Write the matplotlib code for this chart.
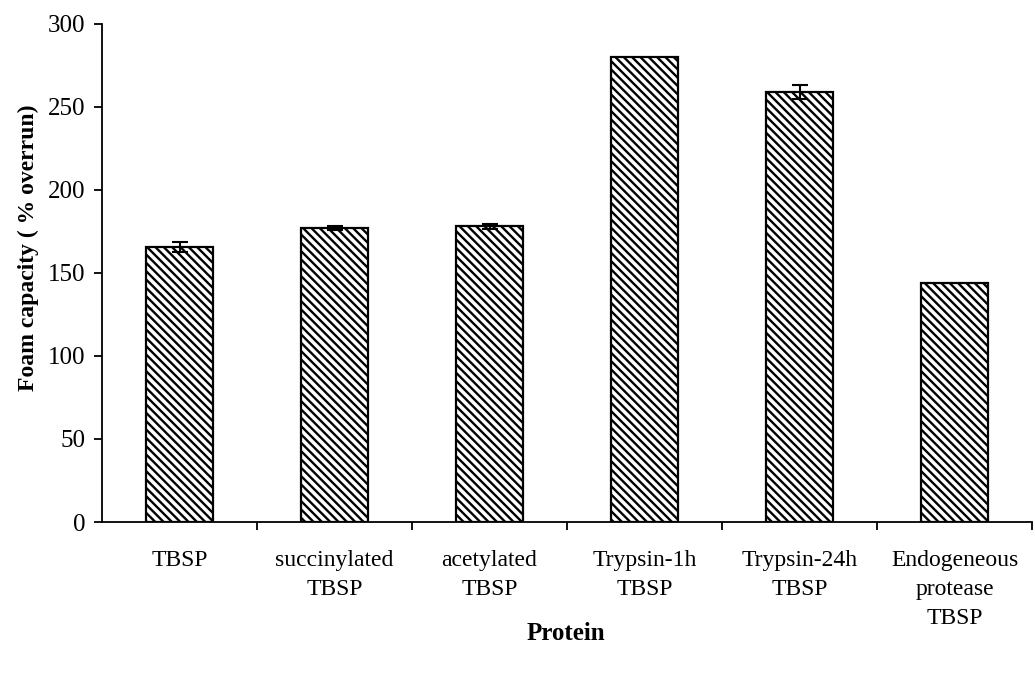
import numpy as np
import matplotlib
matplotlib.use('Agg')
import matplotlib.pyplot as plt

plt.rcParams['font.family'] = ['Liberation Serif', 'DejaVu Serif']
plt.rcParams['hatch.linewidth'] = 1.7

categories = ['TBSP', 'succinylated\nTBSP', 'acetylated\nTBSP',
              'Trypsin-1h\nTBSP', 'Trypsin-24h\nTBSP',
              'Endogeneous\nprotease\nTBSP']
foam = [165.5, 177, 178, 280, 259, 144]
err = [3, 1, 1.5, 0, 4.5, 0]

fig = plt.figure(figsize=(10.35, 6.74), dpi=100)
ax = fig.add_axes([0.0986, 0.2255, 0.8985, 0.739])

x = np.arange(len(categories))
ax.bar(x, foam, width=0.43, color='white', edgecolor='black',
       linewidth=1.6, hatch='\\\\\\\\', zorder=2)
has_err = [i for i, e in enumerate(err) if e > 0]
ax.errorbar(x[has_err], [foam[i] for i in has_err],
            yerr=[err[i] for i in has_err], fmt='none', ecolor='black',
            elinewidth=1.5, capsize=6, capthick=1.5, zorder=3)

ax.set_xlim(-0.5, 5.5)
ax.set_ylim(0, 300)
ax.set_yticks(np.arange(0, 301, 50))
ax.set_xticks(x)
ax.set_xticklabels(categories, fontsize=17, linespacing=1.5)
ax.set_xticks(np.arange(0.5, 5.6, 1), minor=True)
ax.tick_params(axis='x', which='major', length=0, pad=20)
ax.tick_params(axis='x', which='minor', length=6, width=1.3, direction='out')
ax.tick_params(axis='y', length=6, width=1.3, direction='out', labelsize=18, pad=6)
ax.spines[['top', 'right']].set_visible(False)
for s in ('left', 'bottom'):
    ax.spines[s].set_linewidth(1.3)

fig.text(0.027, 1 - 248 / 674, 'Foam capacity ( % overrun)', rotation=90,
         ha='center', va='center', fontsize=17, fontweight='bold')
fig.text(566 / 1035, 1 - 633 / 674, 'Protein', ha='center', va='center',
         fontsize=18, fontweight='bold')

fig.savefig('out.png', dpi=100)
